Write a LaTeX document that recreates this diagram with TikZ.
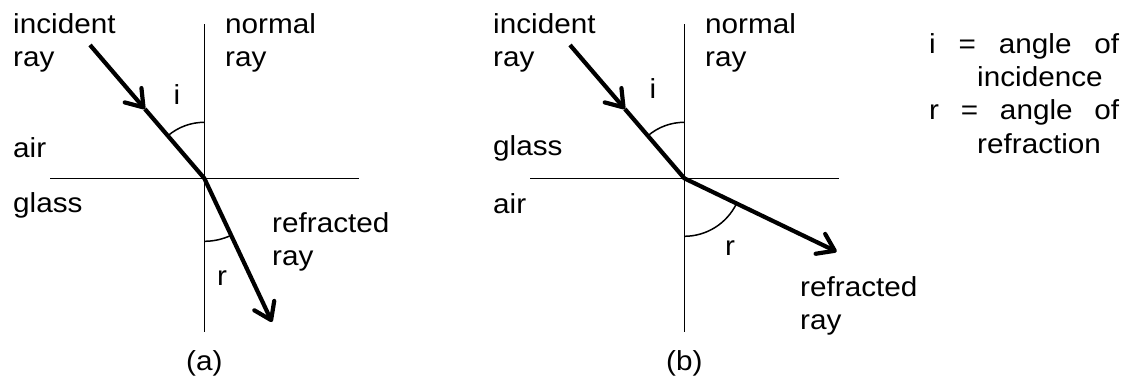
\documentclass[tikz,border=0pt]{standalone}
\usepackage{fontspec}
\setmainfont{Liberation Sans}[FakeStretch=1.08]
\usetikzlibrary{arrows.meta,angles,calc}
\begin{document}
\begin{tikzpicture}[x=1pt,y=-1pt,
  thinline/.style={line width=1.5pt},
  ray/.style={line width=4.2pt, line join=round},
  tip/.style={-{Straight Barb[length=16pt,width=22pt,round]}},
  lbl/.style={inner sep=0pt, font=\fontsize{27.5}{33}\selectfont},
  ml/.style={lbl, align=left, anchor=north west},
  arcs/.style={draw, line width=1.5pt}]
\useasboundingbox (0,0) rectangle (1132,383);

% ---------- (a) ----------
\coordinate (Oa) at (204.3,178.3);
\coordinate (Nat) at (204.3,24);
\coordinate (Nab) at (204.3,332);
\coordinate (Hal) at (50,178.3);
\coordinate (Har) at (359,178.3);
\coordinate (Ia) at (90,45);
\coordinate (Ma) at ($(Ia)!0.48!(Oa)$);
\coordinate (Ra) at (272,322);

\draw[thinline] (Nat) -- (Nab);
\draw[thinline] (Hal) -- (Har);
\draw[ray, tip] (Ia) -- (Ma);
\draw[ray, tip] (Ma) -- (Oa) -- (Ra);
\pic[arcs, angle radius=56pt] {angle = Nat--Oa--Ia};
\pic[arcs, angle radius=63pt] {angle = Nab--Oa--Ra};

\node[ml] (inca) at (13,13) {incident\\ray};
\node[ml] (nora) at (225,13) {normal\\ray};
\node[lbl, anchor=base] (ia) at (177,104) {i};
\node[lbl, anchor=base west] (aira) at (13,157) {air};
\node[lbl, anchor=base west] (glaa) at (13,212) {glass};
\node[ml] (refa) at (272,212) {refracted\\ray};
\node[lbl, anchor=base west] (ra) at (217,285) {r};
\node[lbl, anchor=base] (capa) at (204.3,370) {(a)};

% ---------- (b) ----------
\coordinate (Ob) at (684.3,178.3);
\coordinate (Nbt) at (684.3,24);
\coordinate (Nbb) at (684.3,332);
\coordinate (Hbl) at (530,178.3);
\coordinate (Hbr) at (839,178.3);
\coordinate (Ib) at (570,45);
\coordinate (Mb) at ($(Ib)!0.48!(Ob)$);
\coordinate (Rb) at (836.7,251.7);

\draw[thinline] (Nbt) -- (Nbb);
\draw[thinline] (Hbl) -- (Hbr);
\draw[ray, tip] (Ib) -- (Mb);
\draw[ray, tip] (Mb) -- (Ob) -- (Rb);
\pic[arcs, angle radius=56pt] {angle = Nbt--Ob--Ib};
\pic[arcs, angle radius=58pt] {angle = Nbb--Ob--Rb};

\node[ml] (incb) at (493,13) {incident\\ray};
\node[ml] (norb) at (705,13) {normal\\ray};
\node[lbl, anchor=base] (ib) at (653,98) {i};
\node[lbl, anchor=base west] (glab) at (493,155) {glass};
\node[lbl, anchor=base west] (airb) at (493,213) {air};
\node[lbl, anchor=base west] (rb) at (725,255) {r};
\node[ml] (refb) at (800,276) {refracted\\ray};
\node[lbl, anchor=base] (capb) at (684.3,370) {(b)};

% ---------- legend ----------
\node[lbl, anchor=base west] (l1) at (929,53) {\makebox[190pt][s]{i = angle of}};
\node[lbl, anchor=base west] (l2) at (977,86) {incidence};
\node[lbl, anchor=base west] (l3) at (929,119) {\makebox[190pt][s]{r = angle of}};
\node[lbl, anchor=base west] (l4) at (977,153) {refraction};
\end{tikzpicture}
\end{document}
